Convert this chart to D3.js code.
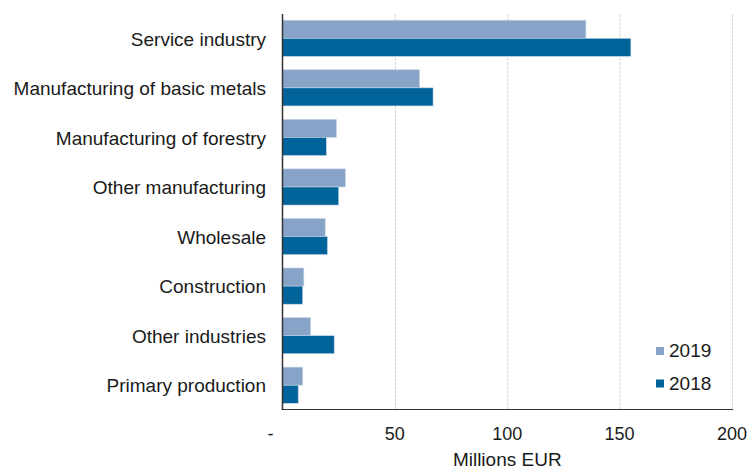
<!DOCTYPE html>
<html>
<head>
<meta charset="utf-8">
<script src="https://cdn.jsdelivr.net/npm/d3@7"></script>
<style>
  html, body { margin: 0; padding: 0; background: #fff; }
  svg { display: block; font-family: "Liberation Sans", Arial, sans-serif; }
</style>
</head>
<body>
<svg id="chart" width="747" height="468"></svg>
<script>
// Industries, top to bottom
const categories = [
  "Service industry",
  "Manufacturing of basic metals",
  "Manufacturing of forestry",
  "Other manufacturing",
  "Wholesale",
  "Construction",
  "Other industries",
  "Primary production"
];
const seriesNames = ["2019", "2018"];
const values2019 = [135, 61, 24, 28, 19, 9.5, 12.5, 9];
const values2018 = [155, 67, 19.5, 25, 20, 9, 23, 7];
const xTicks = [0, 50, 100, 150, 200];
const xTickLabels = ["-", "50", "100", "150", "200"];
const colors = ["#87a4c8", "#006399"];

const svg = d3.select("#chart");
const margin = { left: 282.5, right: 15, top: 14 };
const W = 747;
const plotBottom = 410;

const x = d3.scaleLinear().domain([0, 200]).range([margin.left, W - margin.right]);
const y = d3.scaleBand().domain(categories).range([13.5, plotBottom]).paddingInner(0.27).paddingOuter(0.135);
const ySub = d3.scaleBand().domain(seriesNames).range([0, y.bandwidth()]);

// vertical gridlines
svg.append("g")
  .selectAll("line")
  .data(xTicks.slice(1))
  .join("line")
  .attr("x1", d => x(d) + 0.5).attr("x2", d => x(d) + 0.5)
  .attr("y1", margin.top).attr("y2", plotBottom)
  .attr("stroke", "#d4d4d4").attr("stroke-width", 1)
  .attr("stroke-dasharray", "3,1");

// bars
const rows = categories.map((c, i) => ({ cat: c, vals: [values2019[i], values2018[i]] }));
const groups = svg.append("g").selectAll("g")
  .data(rows).join("g")
  .attr("transform", d => `translate(0,${y(d.cat)})`);
groups.selectAll("rect")
  .data(d => d.vals.map((v, j) => ({ key: seriesNames[j], v, j })))
  .join("rect")
  .attr("x", x(0))
  .attr("y", d => ySub(d.key))
  .attr("width", d => x(d.v) - x(0))
  .attr("height", ySub.bandwidth())
  .attr("fill", d => colors[d.j])
  .attr("stroke", "#c9d6e6").attr("stroke-width", 0.6);

// category axis line
svg.append("line")
  .attr("x1", x(0)).attr("x2", x(0))
  .attr("y1", margin.top).attr("y2", plotBottom)
  .attr("stroke", "#333").attr("stroke-width", 1.5);
// bottom axis line
svg.append("line")
  .attr("x1", x(0) - 0.75).attr("x2", x(200) + 1)
  .attr("y1", 409.5).attr("y2", 409.5)
  .attr("stroke", "#333").attr("stroke-width", 1.2);

// category labels
svg.append("g").selectAll("text")
  .data(categories).join("text")
  .attr("x", 266)
  .attr("y", d => y(d) + y.bandwidth() / 2)
  .attr("dy", "0.38em")
  .attr("text-anchor", "end")
  .attr("font-size", 19)
  .attr("fill", "#1a1a1a")
  .text(d => d);

// x tick labels
svg.append("g").selectAll("text")
  .data(xTicks).join("text")
  .attr("x", (d, i) => i === 0 ? x(d) - 12 : x(d))
  .attr("y", 439.5)
  .attr("text-anchor", "middle")
  .attr("font-size", 18)
  .attr("fill", "#1a1a1a")
  .text((d, i) => xTickLabels[i]);

// axis title
svg.append("text")
  .attr("x", (x(0) + x(200)) / 2)
  .attr("y", 465.5)
  .attr("text-anchor", "middle")
  .attr("font-size", 19)
  .attr("fill", "#1a1a1a")
  .text("Millions EUR");

// legend
const legend = svg.append("g").selectAll("g")
  .data(seriesNames).join("g")
  .attr("transform", (d, i) => `translate(656,${347 + i * 32.5})`);
legend.append("rect")
  .attr("width", 8).attr("height", 8)
  .attr("fill", (d, i) => colors[i]);
legend.append("text")
  .attr("x", 13).attr("y", 10)
  .attr("font-size", 19).attr("fill", "#1a1a1a")
  .text(d => d);
</script>
</body>
</html>
